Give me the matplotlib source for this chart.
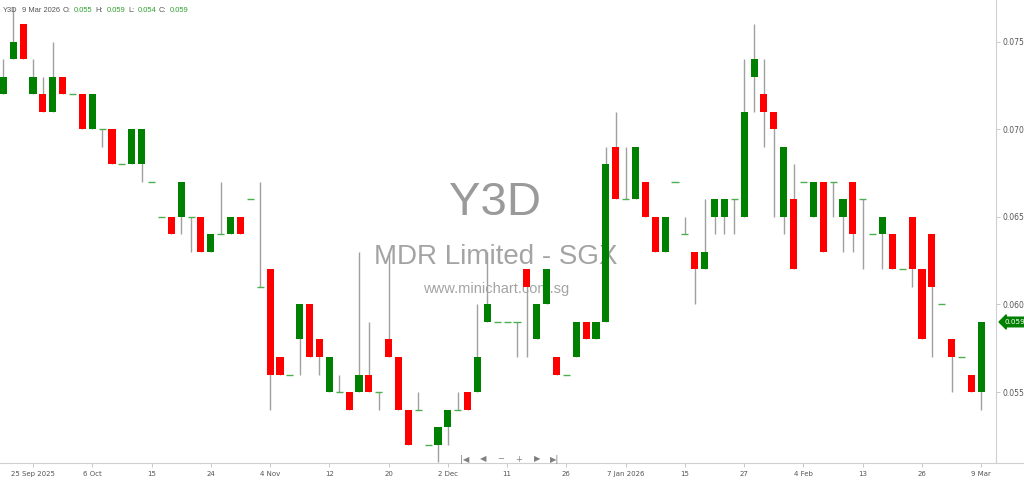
import matplotlib.pyplot as plt
import numpy as np

# daily OHLC for Y3D (MDR Limited)
opens = [0.072, 0.074, 0.076, 0.072, 0.072, 0.071, 0.073, 0.072, 0.072, 0.070,
         0.070, 0.070, 0.068, 0.068, 0.068, 0.067, 0.065, 0.065, 0.065, 0.065,
         0.065, 0.063, 0.064, 0.064, 0.065, 0.066, 0.061, 0.062, 0.057, 0.056,
         0.058, 0.060, 0.058, 0.055, 0.055, 0.055, 0.055, 0.056, 0.055, 0.058,
         0.057, 0.054, 0.054, 0.052, 0.052, 0.053, 0.054, 0.055, 0.055, 0.059,
         0.059, 0.059, 0.059, 0.062, 0.058, 0.060, 0.057, 0.056, 0.057, 0.059,
         0.058, 0.059, 0.069, 0.066, 0.066, 0.067, 0.065, 0.063, 0.067, 0.064,
         0.063, 0.062, 0.065, 0.065, 0.066, 0.065, 0.073, 0.072, 0.071, 0.065,
         0.066, 0.067, 0.065, 0.067, 0.067, 0.065, 0.067, 0.066, 0.064, 0.064,
         0.064, 0.062, 0.065, 0.062, 0.064, 0.060, 0.058, 0.057, 0.056, 0.055]
highs = [0.074, 0.077, 0.076, 0.074, 0.073, 0.075, 0.073, 0.072, 0.072, 0.072,
         0.070, 0.070, 0.068, 0.070, 0.070, 0.067, 0.065, 0.065, 0.067, 0.065,
         0.065, 0.064, 0.067, 0.065, 0.065, 0.066, 0.067, 0.062, 0.057, 0.056,
         0.060, 0.060, 0.058, 0.057, 0.056, 0.055, 0.063, 0.059, 0.055, 0.063,
         0.057, 0.054, 0.055, 0.052, 0.053, 0.054, 0.055, 0.055, 0.060, 0.063,
         0.059, 0.059, 0.059, 0.062, 0.060, 0.062, 0.057, 0.056, 0.059, 0.059,
         0.059, 0.069, 0.071, 0.069, 0.069, 0.067, 0.065, 0.065, 0.067, 0.065,
         0.063, 0.066, 0.066, 0.066, 0.066, 0.074, 0.076, 0.074, 0.071, 0.069,
         0.068, 0.067, 0.067, 0.067, 0.067, 0.066, 0.067, 0.066, 0.064, 0.065,
         0.064, 0.062, 0.065, 0.062, 0.064, 0.060, 0.058, 0.057, 0.056, 0.059]
lows = [0.072, 0.074, 0.074, 0.072, 0.071, 0.071, 0.072, 0.072, 0.070, 0.070,
        0.069, 0.068, 0.068, 0.068, 0.067, 0.067, 0.065, 0.064, 0.064, 0.063,
        0.063, 0.063, 0.064, 0.064, 0.064, 0.066, 0.061, 0.054, 0.056, 0.056,
        0.056, 0.057, 0.056, 0.055, 0.055, 0.054, 0.055, 0.055, 0.054, 0.057,
        0.054, 0.052, 0.054, 0.052, 0.051, 0.052, 0.054, 0.054, 0.055, 0.059,
        0.059, 0.059, 0.057, 0.057, 0.058, 0.060, 0.056, 0.056, 0.057, 0.058,
        0.058, 0.059, 0.066, 0.066, 0.066, 0.065, 0.063, 0.063, 0.067, 0.064,
        0.060, 0.062, 0.064, 0.064, 0.064, 0.065, 0.071, 0.069, 0.065, 0.064,
        0.062, 0.067, 0.065, 0.063, 0.065, 0.063, 0.063, 0.062, 0.064, 0.062,
        0.062, 0.062, 0.061, 0.058, 0.057, 0.060, 0.055, 0.057, 0.055, 0.054]
closes = [0.073, 0.075, 0.074, 0.073, 0.071, 0.073, 0.072, 0.072, 0.070, 0.072,
          0.070, 0.068, 0.068, 0.070, 0.070, 0.067, 0.065, 0.064, 0.067, 0.065,
          0.063, 0.064, 0.064, 0.065, 0.064, 0.066, 0.061, 0.056, 0.056, 0.056,
          0.060, 0.057, 0.057, 0.057, 0.055, 0.054, 0.056, 0.055, 0.055, 0.057,
          0.054, 0.052, 0.054, 0.052, 0.053, 0.054, 0.054, 0.054, 0.057, 0.060,
          0.059, 0.059, 0.059, 0.061, 0.060, 0.062, 0.056, 0.056, 0.059, 0.058,
          0.059, 0.068, 0.066, 0.066, 0.069, 0.065, 0.063, 0.065, 0.067, 0.064,
          0.062, 0.063, 0.066, 0.066, 0.066, 0.071, 0.074, 0.071, 0.070, 0.069,
          0.062, 0.067, 0.067, 0.063, 0.067, 0.066, 0.064, 0.066, 0.064, 0.065,
          0.062, 0.062, 0.062, 0.058, 0.061, 0.060, 0.057, 0.057, 0.055, 0.059]

date_labels = ['25 Sep 2025', '6 Oct', '15', '24', '4 Nov', '12', '20', '2 Dec',
               '11', '26', '7 Jan 2026', '15', '27', '4 Feb', '13', '26', '9 Mar']
first_label_idx = 3
label_step = 6

o = np.array(opens)
h = np.array(highs)
l = np.array(lows)
c = np.array(closes)
x = np.arange(len(o))

GREEN = '#008000'
RED = '#ff0000'
WICK = '#a0a0a0'
GREY_TXT = '#555555'

fig = plt.figure(figsize=(10.24, 4.84), dpi=100)
ax = fig.add_axes([0.0, 0.0434, 0.9727, 0.9566])

# wicks
ax.vlines(x, l, h, color=WICK, lw=1.0, zorder=1)

up = c > o
down = c < o
flat = c == o
ax.bar(x[up], c[up] - o[up], bottom=o[up], width=0.72, color=GREEN, zorder=2)
ax.bar(x[down], o[down] - c[down], bottom=c[down], width=0.72, color=RED, zorder=2)
ax.hlines(c[flat], x[flat] - 0.36, x[flat] + 0.36, color='#4caf50', lw=1.0, zorder=2)

ax.set_xlim(-0.344, 100.5)
ax.set_ylim(0.05095, 0.07738)

# axes look
for s in ['top', 'left']:
    ax.spines[s].set_visible(False)
ax.spines['right'].set_color('#d0d0d0')
ax.spines['bottom'].set_color('#d0d0d0')
ax.yaxis.tick_right()
ax.set_yticks([0.055, 0.060, 0.065, 0.070, 0.075])
ax.set_yticklabels(['0.055', '0.060', '0.065', '0.070', '0.075'])
ax.tick_params(axis='y', labelsize=5.5, colors=GREY_TXT, length=3, width=0.6,
               pad=2, color='#c0c0c0')
ticks_x = first_label_idx + label_step * np.arange(len(date_labels))
ax.set_xticks(ticks_x)
ax.set_xticklabels(date_labels)
ax.tick_params(axis='x', labelsize=5, colors=GREY_TXT, length=3, width=0.6,
               pad=3, color='#c0c0c0')

# x-axis line runs across the whole figure
fig.add_artist(plt.Line2D([0.9727, 1.0], [0.0434, 0.0434], color='#d0d0d0', lw=0.8))

# watermark
ax.text(495 / 996, 1 - 203 / 463, 'Y3D', transform=ax.transAxes,
        ha='center', va='center', fontsize=34, color='#9a9a9a', family='Liberation Sans', zorder=0)
ax.text(496 / 996, 1 - 257 / 463, 'MDR Limited - SGX', transform=ax.transAxes,
        ha='center', va='center', fontsize=20, color='#a4a4a4', family='Liberation Sans', zorder=0)
ax.text(496 / 996, 1 - 289 / 463, 'www.minichart.com.sg', transform=ax.transAxes,
        ha='center', va='center', fontsize=10.5, color='#a4a4a4', family='Liberation Sans', zorder=0)

# navigation buttons
nav = ['|◀', '◀', '−', '+', '▶', '▶|']
for k, sym in enumerate(nav):
    fig.text((465 + 18 * k) / 1024, 1 - 459 / 484, sym, ha='center', va='center',
             fontsize=6, color='#808080')

# header line
hdr = [('Y3D', 3, GREY_TXT), ('9 Mar 2026', 22, GREY_TXT),
       ('O:', 63, GREY_TXT), ('%.3f' % o[-1], 74, '#2e9e2e'),
       ('H:', 95, GREY_TXT), ('%.3f' % h[-1], 107, '#2e9e2e'),
       ('L:', 128, GREY_TXT), ('%.3f' % l[-1], 138, '#2e9e2e'),
       ('C:', 159, GREY_TXT), ('%.3f' % c[-1], 170, '#2e9e2e')]
for txt, px, col in hdr:
    fig.text(px / 1024, 1 - 10 / 484, txt, ha='left', va='center', fontsize=5.4,
             color=col, family='Liberation Sans')

# last price tag
ax.annotate('%.3f' % c[-1], xy=(1.0, c[-1]), xycoords=('axes fraction', 'data'),
            xytext=(6, 0), textcoords='offset points', ha='left', va='center',
            fontsize=5.2, color='white', annotation_clip=False,
            bbox=dict(boxstyle='larrow,pad=0.25', fc=GREEN, ec=GREEN))

fig.savefig('out.png', dpi=100)
